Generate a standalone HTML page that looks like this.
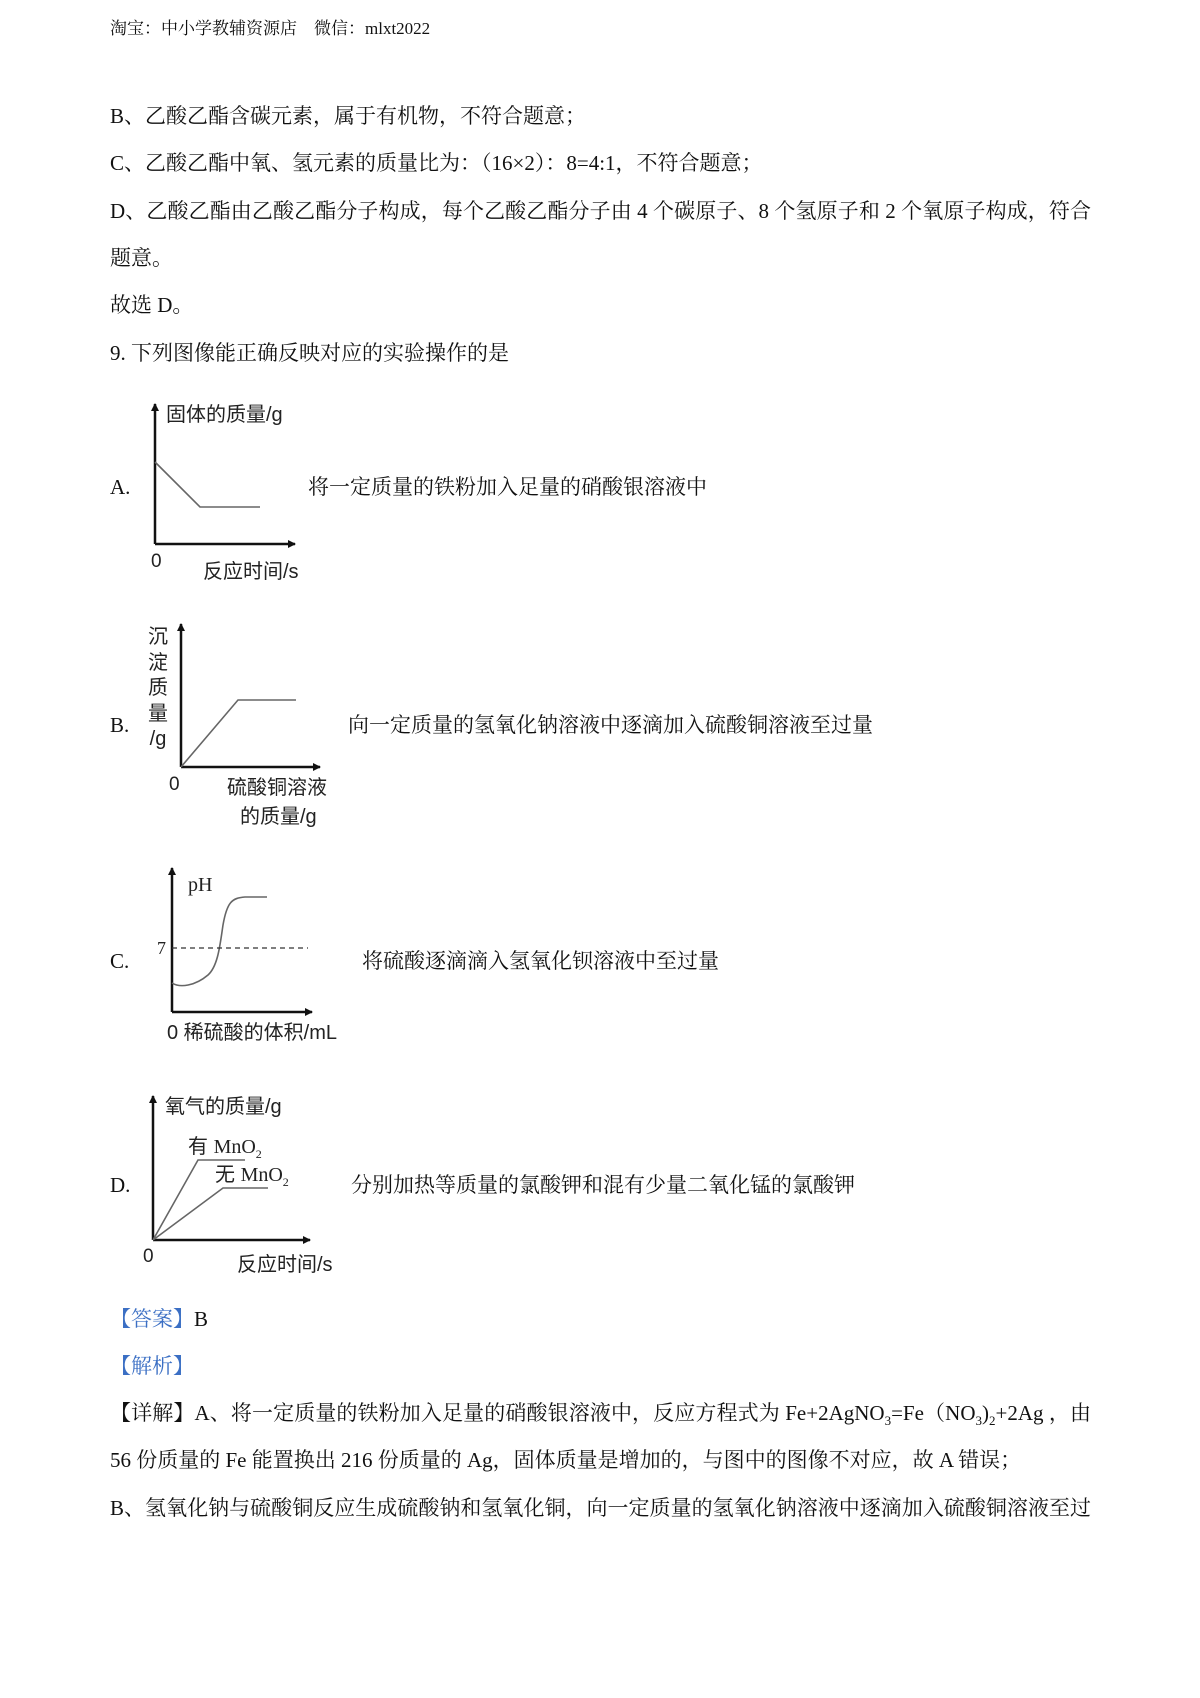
<!DOCTYPE html>
<html><head><meta charset="utf-8">
<style>
html,body{margin:0;padding:0;background:#fff;}
body{width:1200px;height:1698px;position:relative;overflow:hidden;font-family:"Liberation Serif","Noto Serif CJK SC",serif;color:#111;}
.t{position:absolute;font-size:21px;line-height:26px;white-space:nowrap;}
.j{width:981px;text-align:justify;text-align-last:justify;}
.s{position:absolute;font-family:"Liberation Sans","Noto Sans CJK SC",sans-serif;font-size:20px;line-height:24px;white-space:nowrap;color:#222;}
.b{color:#3b6fc4;}
svg{position:absolute;left:0;top:0;}
</style></head><body>
<div class="t" style="left:110px;top:18px;font-size:17px;line-height:22px;">淘宝：中小学教辅资源店　微信：mlxt2022</div>
<div class="t" style="left:110px;top:103px;">B、乙酸乙酯含碳元素，属于有机物，不符合题意；</div>
<div class="t" style="left:110px;top:150px;">C、乙酸乙酯中氧、氢元素的质量比为：（16×2）：8=4:1，不符合题意；</div>
<div class="t j" style="left:110px;top:198px;">D、乙酸乙酯由乙酸乙酯分子构成，每个乙酸乙酯分子由 4 个碳原子、8 个氢原子和 2 个氧原子构成，符合</div>
<div class="t" style="left:110px;top:245px;">题意。</div>
<div class="t" style="left:110px;top:292px;">故选 D。</div>
<div class="t" style="left:110px;top:340px;">9. 下列图像能正确反映对应的实验操作的是</div>

<svg width="1200" height="1698" viewBox="0 0 1200 1698">
<defs><marker id="ar" markerWidth="8" markerHeight="8" refX="7" refY="4" orient="auto" markerUnits="userSpaceOnUse"><path d="M0,0 L8,4 L0,8 z" fill="#111"/></marker></defs>
<g stroke="#111" stroke-width="2.5" fill="none">
<line x1="155" y1="544" x2="155" y2="404" marker-end="url(#ar)"/>
<line x1="155" y1="544" x2="295" y2="544" marker-end="url(#ar)"/>
<line x1="181" y1="767" x2="181" y2="624" marker-end="url(#ar)"/>
<line x1="181" y1="767" x2="320" y2="767" marker-end="url(#ar)"/>
<line x1="172" y1="1012" x2="172" y2="868" marker-end="url(#ar)"/>
<line x1="172" y1="1012" x2="312" y2="1012" marker-end="url(#ar)"/>
<line x1="153" y1="1240" x2="153" y2="1096" marker-end="url(#ar)"/>
<line x1="153" y1="1240" x2="310" y2="1240" marker-end="url(#ar)"/>
</g>
<g stroke="#666" stroke-width="1.6" fill="none">
<polyline points="155,462 200,507 260,507"/>
<polyline points="181,767 238,700 296,700"/>
<path d="M172,983 C180,988 195,986 208,975 C218,966 220,945 223,925 C227,902 232,898 245,897 L267,897"/>
<line x1="172" y1="948" x2="308" y2="948" stroke="#333" stroke-dasharray="5,4" stroke-width="1.3"/>
<polyline points="153,1240 198,1160 245,1160"/>
<polyline points="153,1240 223,1188 268,1188"/>
</g>
</svg>

<div class="t" style="left:110px;top:474px;">A.</div>
<div class="s" style="left:166px;top:403px;">固体的质量/g</div>
<div class="s" style="left:151px;top:550px;font-size:19px;">0</div>
<div class="s" style="left:203px;top:560px;">反应时间/s</div>
<div class="t" style="left:308px;top:474px;">将一定质量的铁粉加入足量的硝酸银溶液中</div>

<div class="t" style="left:110px;top:712px;">B.</div>
<div class="s" style="left:147px;top:625px;line-height:25.5px;width:22px;white-space:normal;text-align:center;">沉淀质量<br>/g</div>
<div class="s" style="left:169px;top:773px;font-size:19px;">0</div>
<div class="s" style="left:227px;top:776px;">硫酸铜溶液</div>
<div class="s" style="left:240px;top:805px;">的质量/g</div>
<div class="t" style="left:348px;top:712px;">向一定质量的氢氧化钠溶液中逐滴加入硫酸铜溶液至过量</div>

<div class="t" style="left:110px;top:948px;">C.</div>
<div class="s" style="left:188px;top:873px;font-family:'Liberation Serif',serif;">pH</div>
<div class="s" style="left:157px;top:936px;font-size:18px;font-family:'Liberation Serif',serif;">7</div>
<div class="s" style="left:167px;top:1021px;">0 稀硫酸的体积/mL</div>
<div class="t" style="left:362px;top:948px;">将硫酸逐滴滴入氢氧化钡溶液中至过量</div>

<div class="t" style="left:110px;top:1172px;">D.</div>
<div class="s" style="left:165px;top:1095px;">氧气的质量/g</div>
<div class="s" style="left:188px;top:1135px;">有 <span style="font-family:'Liberation Serif',serif;">MnO<sub style="font-size:12px;">2</sub></span></div>
<div class="s" style="left:215px;top:1163px;">无 <span style="font-family:'Liberation Serif',serif;">MnO<sub style="font-size:12px;">2</sub></span></div>
<div class="s" style="left:143px;top:1245px;font-size:19px;">0</div>
<div class="s" style="left:237px;top:1253px;">反应时间/s</div>
<div class="t" style="left:351px;top:1172px;">分别加热等质量的氯酸钾和混有少量二氧化锰的氯酸钾</div>

<div class="t" style="left:110px;top:1306px;"><span class="b">【答案】</span>B</div>
<div class="t" style="left:110px;top:1353px;"><span class="b">【解析】</span></div>
<div class="t j" style="left:110px;top:1400px;">【详解】A、将一定质量的铁粉加入足量的硝酸银溶液中，反应方程式为 Fe+2AgNO<sub style="font-size:13px;">3</sub>=Fe（NO<sub style="font-size:13px;">3</sub>)<sub style="font-size:13px;">2</sub>+2Ag ，由</div>
<div class="t" style="left:110px;top:1447px;">56 份质量的 Fe 能置换出 216 份质量的 Ag，固体质量是增加的，与图中的图像不对应，故 A 错误；</div>
<div class="t j" style="left:110px;top:1495px;">B、氢氧化钠与硫酸铜反应生成硫酸钠和氢氧化铜，向一定质量的氢氧化钠溶液中逐滴加入硫酸铜溶液至过</div>
</body></html>
